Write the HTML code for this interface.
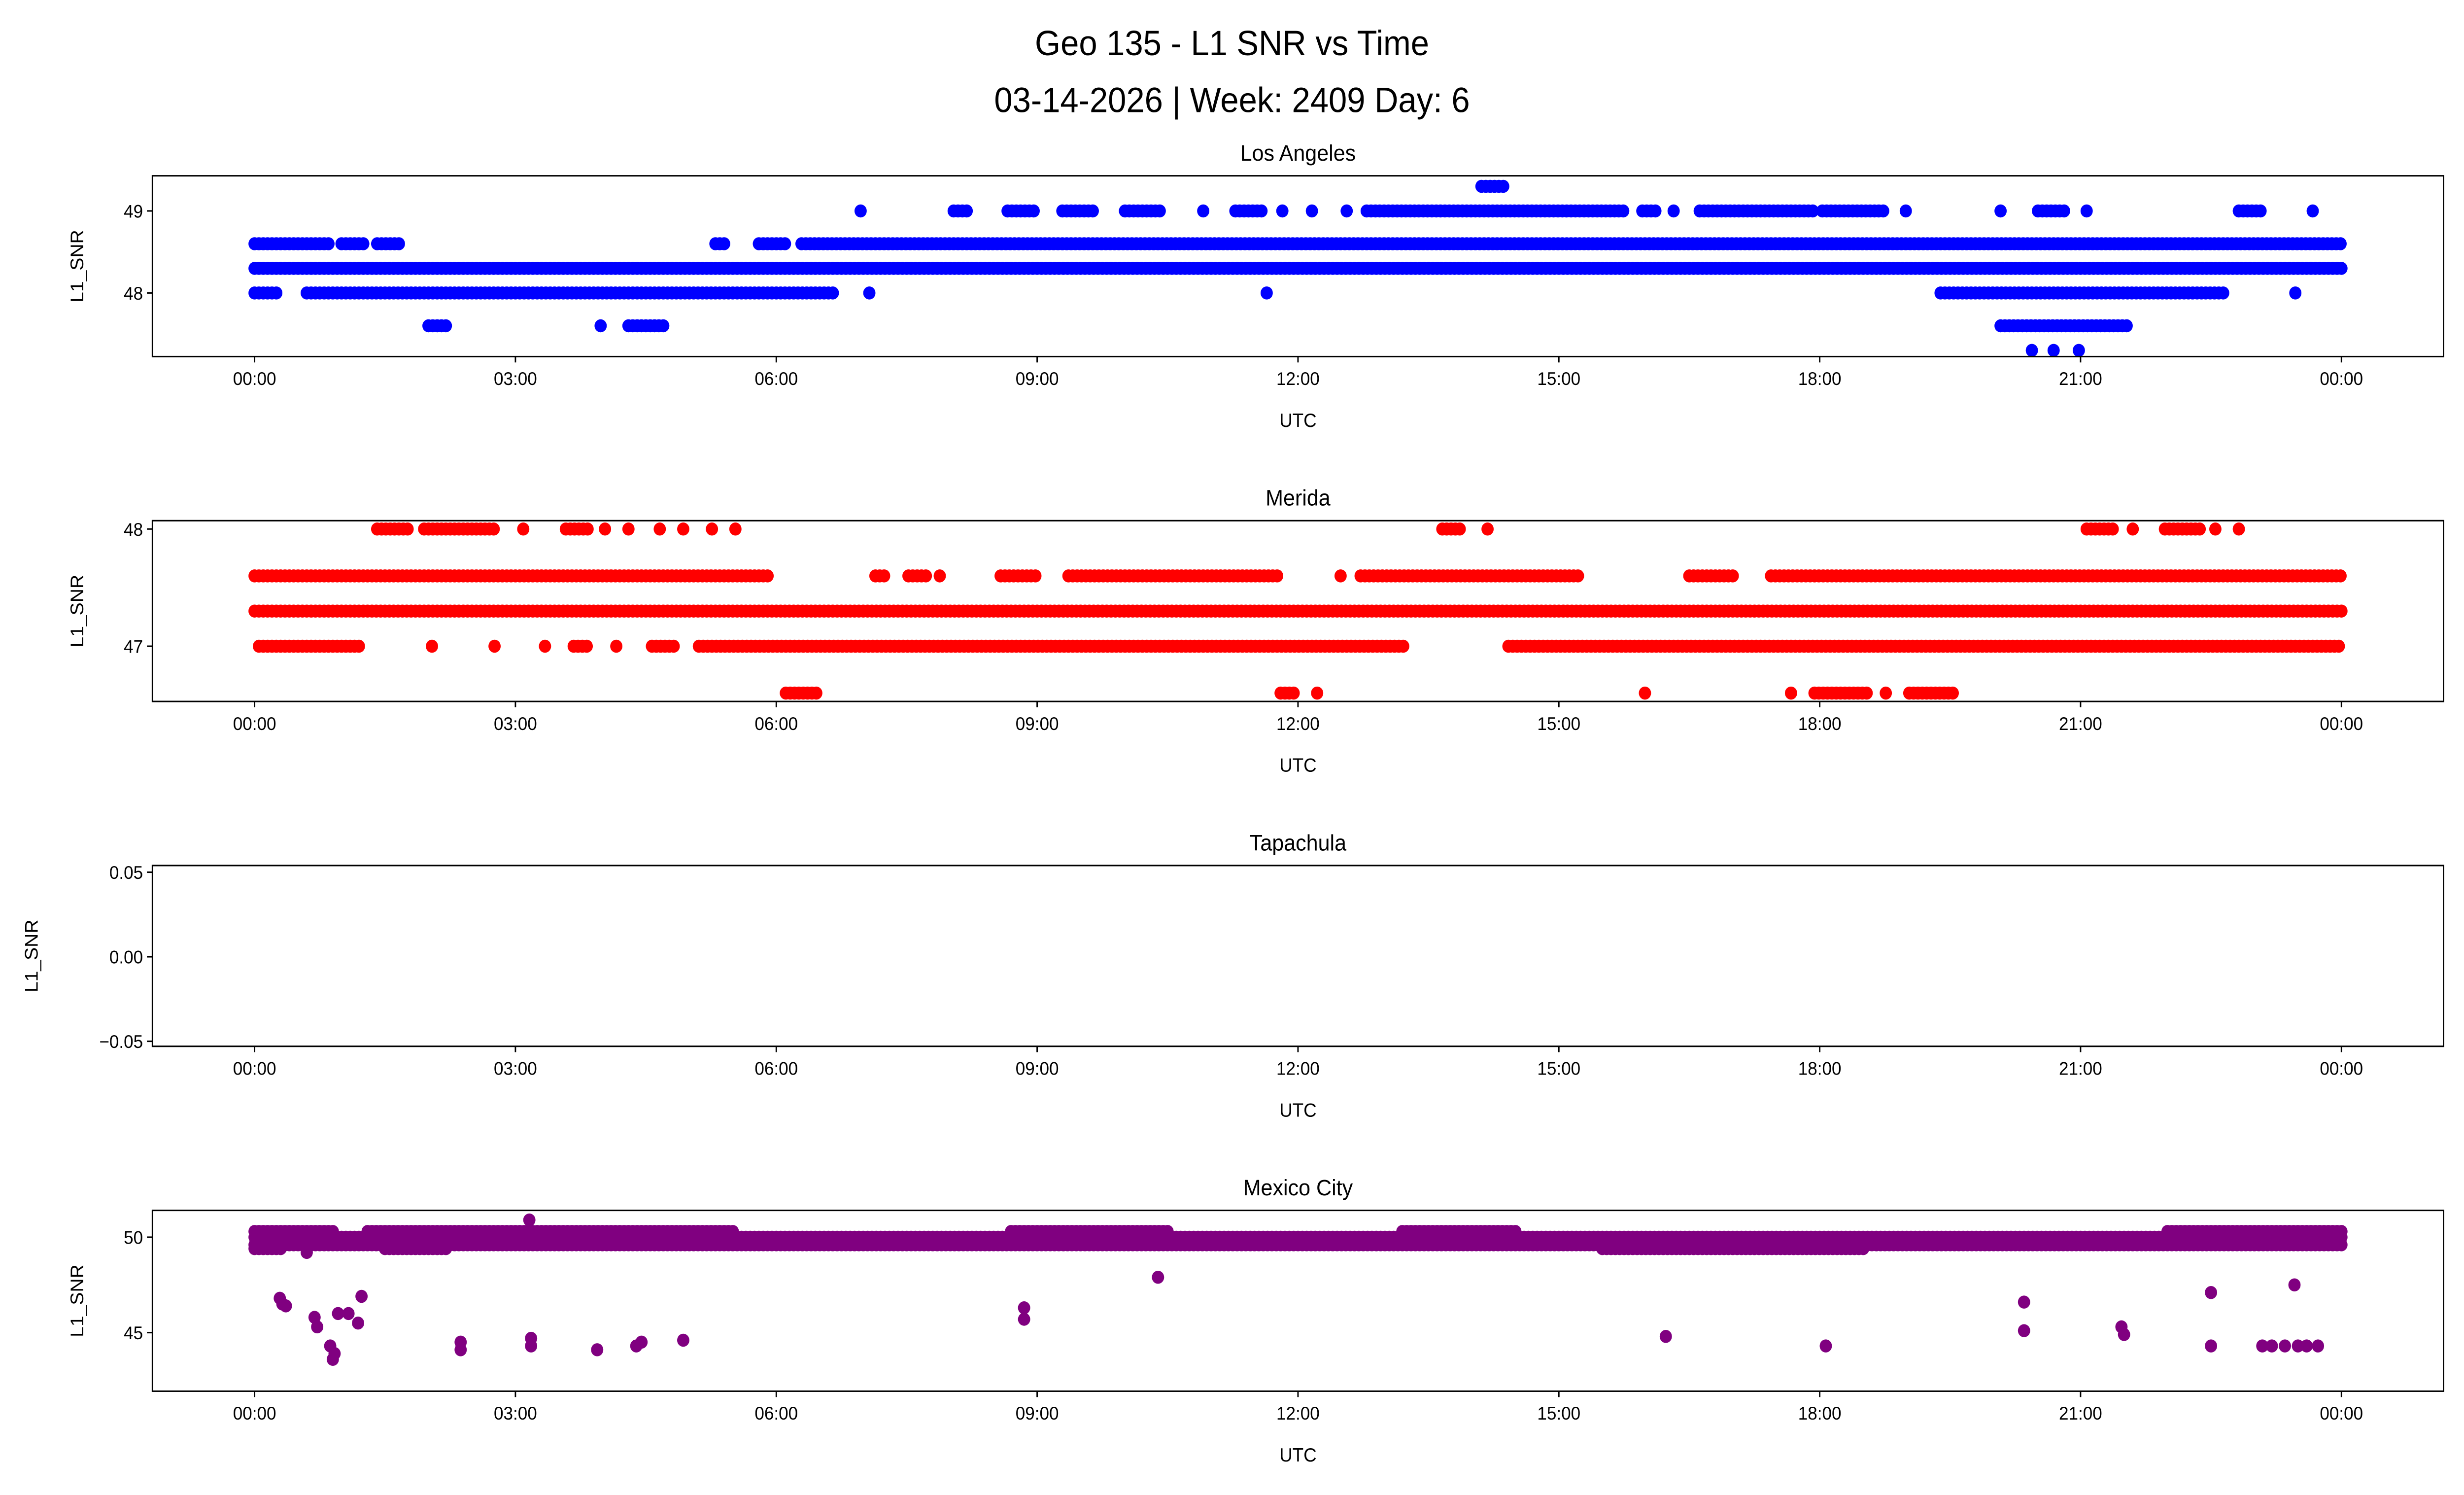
<!DOCTYPE html>
<html><head><meta charset="utf-8"><style>
html,body{margin:0;padding:0;background:#fff;width:100vw;height:100vh;overflow:hidden;}
svg{display:block;position:absolute;left:0;top:0;width:100vw;height:100vh;font-family:"Liberation Sans","DejaVu Sans",sans-serif;}
</style></head><body>
<svg id="fig" viewBox="0 0 1568 893" preserveAspectRatio="none" xmlns="http://www.w3.org/2000/svg">
<rect x="0" y="0" width="1568" height="893" fill="#fff"/>
<text x="784" y="33" font-size="21" text-anchor="middle" fill="#000">Geo 135 - L1 SNR vs Time</text>
<text x="784" y="67" font-size="21" text-anchor="middle" fill="#000">03-14-2026 | Week: 2409 Day: 6</text>
<g id="plots"></g>
</svg>
<script>
// x ticks (hours) and labels
const xTickHours = [0,3,6,9,12,15,18,21,24];
const xTickLabels = ["00:00","03:00","06:00","09:00","12:00","15:00","18:00","21:00","00:00"];

// Los Angeles: levels and runs [startHour,endHour]
const laLevels = [48.3, 48.6, 49, 49.3, 48, 47.6, 47.3];
const laRuns = [
 [[0,24]],
 [[0,0.87],[1.0,1.26],[1.41,1.68],[5.3,5.42],[5.8,6.1],[6.29,24]],
 [[6.97,6.97],[8.04,8.19],[8.66,9.0],[9.29,9.67],[10.01,10.44],[10.91,10.91],[11.28,11.58],[11.82,11.82],[12.16,12.16],[12.56,12.56],[12.79,15.78],[15.96,16.14],[16.32,16.32],[16.62,17.94],[18.03,18.76],[18.99,18.99],[20.08,20.08],[20.51,20.83],[21.07,21.07],[22.82,23.09],[23.67,23.67]],
 [[14.11,14.37]],
 [[0,0.29],[0.6,6.69],[7.07,7.07],[11.64,11.64],[19.39,22.64],[23.47,23.47]],
 [[2.0,2.24],[3.98,3.98],[4.3,4.72],[20.08,21.56]],
 [[20.44,20.44],[20.69,20.69],[20.98,20.98]]
];
const laTicks = [48, 49];

// Merida
const meLevels = [47.3, 47.6, 47, 48, 46.6];
const meRuns = [
 [[0,24]],
 [[0,5.93],[7.14,7.28],[7.52,7.73],[7.88,7.88],[8.58,9.0],[9.36,11.8],[12.49,12.49],[12.72,15.23],[16.5,17.04],[17.44,24]],
 [[0.05,1.23],[2.04,2.04],[2.76,2.76],[3.34,3.34],[3.67,3.85],[4.16,4.16],[4.57,4.84],[5.11,13.25],[14.42,24]],
 [[1.41,1.8],[1.95,2.76],[3.09,3.09],[3.58,3.85],[4.03,4.03],[4.3,4.3],[4.66,4.66],[4.93,4.93],[5.26,5.26],[5.53,5.53],[13.66,13.88],[14.18,14.18],[21.07,21.38],[21.6,21.6],[21.97,22.37],[22.55,22.55],[22.82,22.82]],
 [[6.11,6.47],[11.8,11.98],[12.22,12.22],[15.99,15.99],[17.67,17.67],[17.94,18.58],[18.76,18.76],[19.03,19.57]]
];
const meTicks = [47, 48];

// Tapachula (no data)
const taTicks = [0.05, 0.0, -0.05];
const taTickLabels = ["0.05","0.00","\u22120.05"];

// Mexico City
const mcLevels = [49.6, 50.0, 50.3, 49.4];
const mcRuns = [
 [[0,24]],
 [[0,24]],
 [[0,0.9],[1.3,5.5],[8.7,10.5],[13.2,14.5],[22,24]],
 [[0,0.3],[1.5,2.2],[15.5,18.5]]
];
const mcOutT = [0.29,0.32,0.36,0.6,0.69,0.72,0.87,0.9,0.92,0.96,1.08,1.19,1.23,2.37,2.37,3.16,3.18,3.18,3.94,4.39,4.45,4.93,8.85,8.85,10.39,16.23,18.07,20.35,20.35,21.47,21.5,22.5,22.5,23.09,23.2,23.35,23.46,23.5,23.6,23.73];
const mcOutV = [46.8,46.5,46.4,49.2,45.8,45.3,44.3,43.6,43.9,46.0,46.0,45.5,46.9,44.5,44.1,50.9,44.3,44.7,44.1,44.3,44.5,44.6,45.7,46.3,47.9,44.8,44.3,46.6,45.1,45.3,44.9,47.1,44.3,44.3,44.3,44.3,47.5,44.3,44.3,44.3];

const NS = "http://www.w3.org/2000/svg";
const root = document.getElementById('plots');
const X0 = 162, X1 = 1490, AXL = 97, AXR = 1555;
function xs(h){ return X0 + h*(X1-X0)/24; }
function mk(tag, attrs, parent){ const e=document.createElementNS(NS,tag); for(const k in attrs) e.setAttribute(k,attrs[k]); parent.appendChild(e); return e; }
const STEP = 0.05, R = 3.9;

function panel(cfg){
  const g = mk('g',{},root);
  
  
  const ys = v => cfg.yA + (v - cfg.vA)*(cfg.yB - cfg.yA)/(cfg.vB - cfg.vA);
  const marks = mk('g',{fill:cfg.color},g);
  
  
  if (cfg.levels) cfg.levels.forEach((lv,i)=>{
    cfg.runs[i].forEach(r=>{
      for(let t=r[0]; t<=r[1]+1e-9; t+=STEP){
        const c = mk('circle',{cx:xs(t).toFixed(2),cy:ys(lv).toFixed(2),r:R},marks);
        
        
      }
    });
  });
  if (cfg.outT) cfg.outT.forEach((t,i)=>{
    const c = mk('circle',{cx:xs(t).toFixed(2),cy:ys(cfg.outV[i]).toFixed(2),r:R},marks);
    
    
  });
  const fr = mk('rect',{x:AXL,y:cfg.top,width:AXR-AXL,height:cfg.bot-cfg.top,fill:'none',stroke:'#000','stroke-width':0.9},g);
  
  
  xTickHours.forEach((h,i)=>{
    mk('line',{x1:xs(h),x2:xs(h),y1:cfg.bot,y2:cfg.bot+3.5,stroke:'#000','stroke-width':0.9},g);
    const t = mk('text',{x:xs(h),y:cfg.bot+17,'font-size':11,'text-anchor':'middle'},g);
    t.textContent = xTickLabels[i];
    
    
  });
  cfg.ticks.forEach((v,i)=>{
    mk('line',{x1:AXL-3.5,x2:AXL,y1:ys(v),y2:ys(v),stroke:'#000','stroke-width':0.9},g);
    const t = mk('text',{x:AXL-6,y:ys(v)+4,'font-size':11,'text-anchor':'end'},g);
    t.textContent = cfg.tickLabels ? cfg.tickLabels[i] : String(v);
    
    
  });
  const xl = mk('text',{x:826,y:cfg.bot+42,'font-size':11.5,'text-anchor':'middle'},g);
  xl.textContent = 'UTC';
  
  
  const cy=(cfg.top+cfg.bot)/2;
  const yl = mk('text',{x:cfg.ylx,y:cy,'font-size':11.5,'text-anchor':'middle',transform:`rotate(-90 ${cfg.ylx} ${cy})`},g);
  yl.textContent = 'L1_SNR';
  
  
  const st = mk('text',{x:826,y:cfg.top-9,'font-size':13.5,'text-anchor':'middle'},g);
  st.textContent = cfg.title;
  
  
}

panel({name:'los-angeles',title:'Los Angeles',color:'#0000ff',top:105,bot:213,vA:49,yA:126,vB:48,yB:175,levels:laLevels,runs:laRuns,ticks:laTicks,ylx:53});
panel({name:'merida',title:'Merida',color:'#ff0000',top:311,bot:419,vA:48,yA:316,vB:47,yB:386,levels:meLevels,runs:meRuns,ticks:meTicks,ylx:53});
panel({name:'tapachula',title:'Tapachula',color:'#000',top:517,bot:625,vA:0.05,yA:521,vB:-0.05,yB:622,ticks:taTicks,tickLabels:taTickLabels,ylx:24});
panel({name:'mexico-city',title:'Mexico City',color:'#800080',top:723,bot:831,vA:50,yA:739,vB:45,yB:796,levels:mcLevels,runs:mcRuns,outT:mcOutT,outV:mcOutV,ticks:[45,50],ylx:53});
</script>
</body></html>
